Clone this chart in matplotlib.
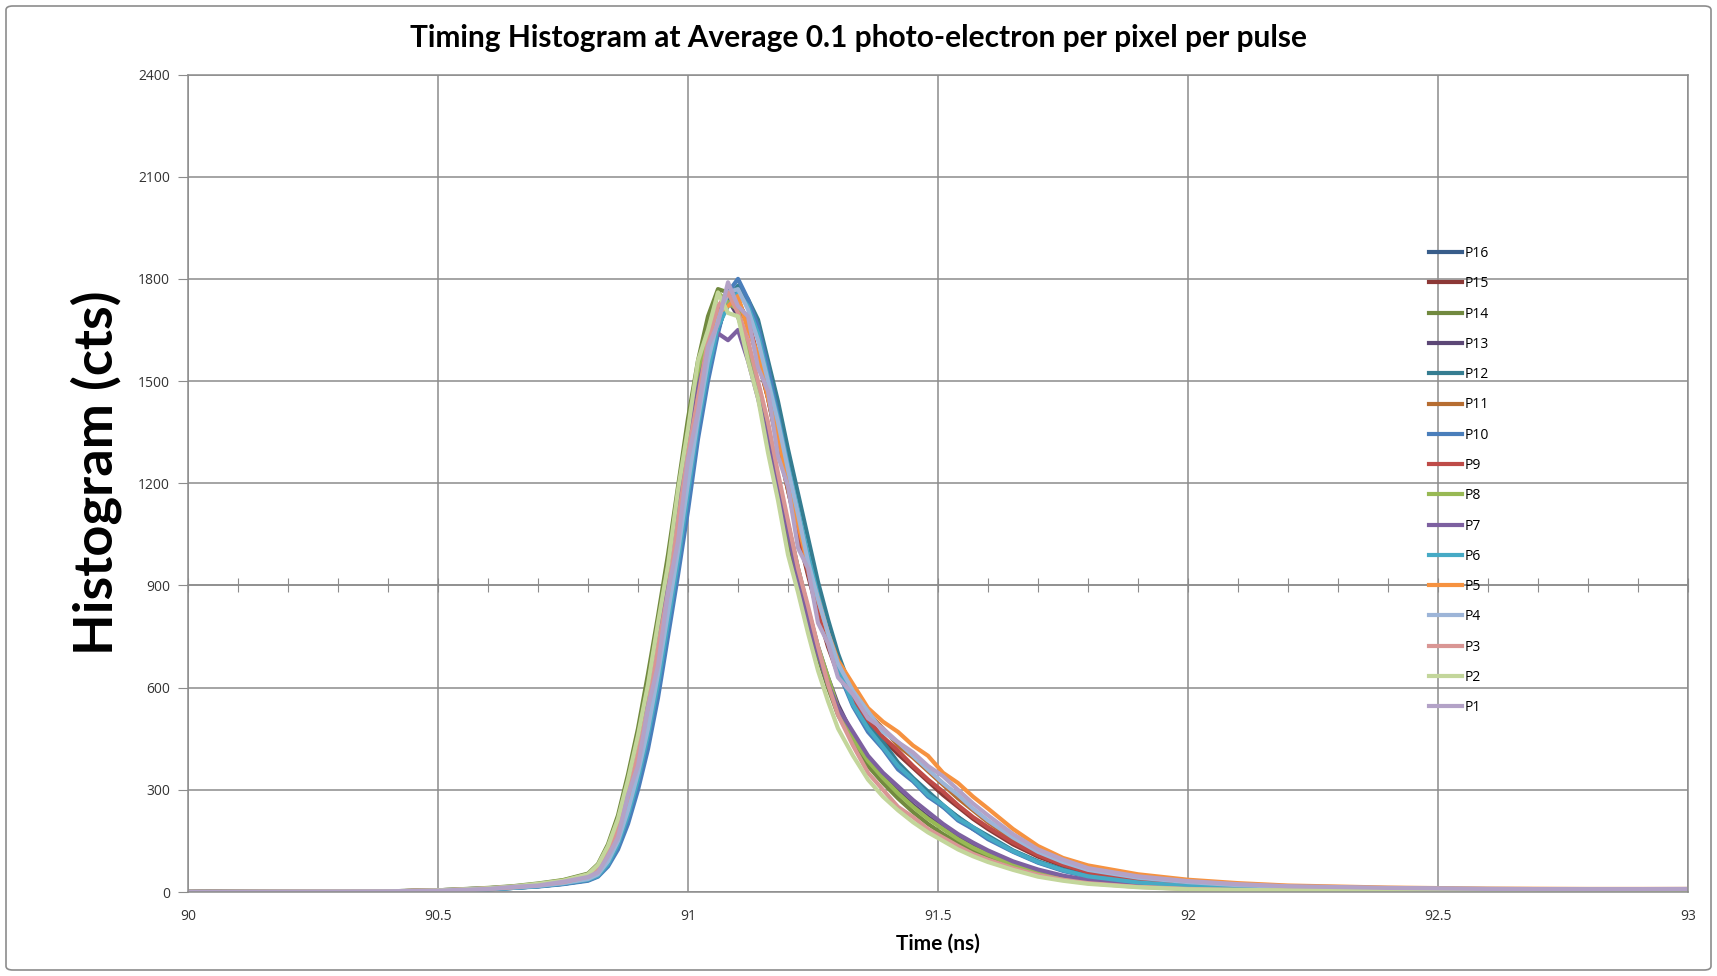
import matplotlib
matplotlib.use("Agg")
import matplotlib.pyplot as plt
from matplotlib.ticker import MultipleLocator
from matplotlib.patches import FancyBboxPatch

# ── Daten ────────────────────────────────────────────────────
t_ns = [90.0, 90.2, 90.4, 90.5, 90.6, 90.65, 90.7, 90.75, 90.8,
        90.82, 90.84, 90.86, 90.88, 90.90, 90.92, 90.94, 90.96, 90.98, 91.00,
        91.02, 91.04, 91.06, 91.08, 91.10, 91.12, 91.14, 91.16, 91.18, 91.20,
        91.22, 91.24, 91.26, 91.28, 91.30,
        91.33, 91.36, 91.39, 91.42, 91.45, 91.48, 91.51, 91.54, 91.57, 91.60,
        91.65, 91.70, 91.75, 91.80, 91.90, 92.00, 92.10, 92.20, 92.40, 92.60, 92.80, 93.00]

p1 = [0, 1, 2, 4, 9, 15, 19, 30, 44,
      58, 105, 160, 285, 370, 540, 665, 880, 1030, 1270, 1410, 1600, 1670, 1790, 1720, 1690,
      1540, 1470, 1280, 1190, 1010, 950, 790, 730, 630,
      580, 510, 480, 440, 410, 370, 340, 300, 260, 225,
      170, 125, 95, 70, 46, 32, 23, 17, 12, 9, 8, 9]
p2 = [0, 1, 2, 5, 11, 16, 24, 33, 52,
      80, 135, 215, 330, 460, 610, 790, 960, 1180, 1360, 1560, 1650, 1760, 1700, 1690, 1560,
      1450, 1290, 1150, 990, 880, 760, 650, 560, 480,
      400, 330, 280, 240, 205, 175, 150, 125, 105, 88,
      65, 45, 33, 24, 14, 8, 6, 5, 4, 4, 4, 4]
p3 = [0, 1, 2, 4, 10, 14, 21, 29, 45,
      65, 110, 185, 280, 410, 545, 720, 880, 1090, 1290, 1450, 1620, 1720, 1760, 1700, 1620,
      1500, 1380, 1230, 1090, 950, 840, 720, 610, 520,
      430, 350, 300, 250, 220, 185, 160, 135, 112, 95,
      70, 50, 36, 26, 15, 9, 6, 5, 4, 4, 4, 4]
p4 = [0, 1, 2, 3, 9, 13, 18, 26, 38,
      52, 90, 150, 240, 350, 480, 640, 820, 1000, 1200, 1390, 1560, 1680, 1760, 1770, 1710,
      1620, 1500, 1380, 1240, 1110, 970, 860, 760, 670,
      590, 530, 470, 440, 400, 360, 320, 285, 245, 210,
      160, 118, 88, 65, 42, 29, 20, 15, 11, 9, 8, 8]
p5 = [0, 1, 2, 4, 10, 15, 21, 32, 45,
      62, 108, 175, 290, 390, 530, 700, 850, 1070, 1240, 1450, 1570, 1700, 1720, 1750, 1650,
      1580, 1450, 1340, 1200, 1080, 960, 860, 760, 680,
      610, 540, 500, 470, 430, 400, 350, 320, 280, 245,
      185, 135, 100, 78, 52, 36, 26, 19, 13, 10, 9, 9]
p6 = [0, 1, 1, 3, 8, 12, 17, 25, 36,
      48, 82, 140, 225, 330, 460, 610, 790, 970, 1170, 1370, 1530, 1660, 1720, 1760, 1720,
      1640, 1510, 1390, 1250, 1120, 990, 870, 760, 660,
      550, 480, 425, 370, 330, 285, 255, 215, 190, 160,
      120, 88, 64, 46, 28, 18, 12, 9, 7, 6, 5, 6]
p7 = [0, 1, 2, 5, 11, 15, 22, 31, 48,
      72, 120, 200, 310, 440, 580, 760, 930, 1130, 1330, 1480, 1600, 1640, 1620, 1650, 1560,
      1450, 1330, 1180, 1060, 920, 800, 700, 610, 540,
      470, 400, 350, 310, 270, 235, 200, 170, 145, 122,
      90, 66, 48, 35, 21, 13, 9, 6, 5, 4, 4, 5]
p8 = [0, 1, 2, 5, 11, 16, 23, 34, 50,
      75, 128, 210, 320, 455, 600, 780, 950, 1150, 1350, 1520, 1640, 1760, 1730, 1710, 1600,
      1480, 1350, 1210, 1080, 950, 830, 720, 630, 540,
      450, 385, 335, 290, 250, 215, 185, 155, 130, 110,
      80, 58, 42, 31, 18, 11, 8, 6, 5, 4, 4, 4]
p9 = [0, 1, 2, 4, 9, 14, 20, 28, 40,
      55, 98, 165, 260, 375, 510, 670, 850, 1040, 1230, 1420, 1570, 1700, 1760, 1730, 1680,
      1570, 1460, 1320, 1190, 1060, 940, 830, 730, 650,
      570, 505, 455, 415, 370, 330, 295, 255, 220, 190,
      145, 108, 80, 58, 37, 25, 17, 12, 9, 7, 7, 7]
p10 = [0, 1, 1, 3, 8, 12, 16, 23, 33,
       45, 75, 125, 200, 300, 420, 570, 750, 930, 1120, 1330, 1500, 1640, 1760, 1800, 1740,
       1660, 1540, 1400, 1250, 1110, 980, 860, 750, 650,
       545, 470, 420, 360, 325, 280, 250, 210, 185, 155,
       118, 86, 62, 45, 27, 17, 12, 9, 7, 6, 5, 6]
p11 = [0, 1, 2, 4, 10, 14, 20, 29, 43,
       60, 104, 172, 275, 385, 525, 690, 870, 1060, 1260, 1440, 1590, 1700, 1730, 1740, 1670,
       1570, 1450, 1310, 1180, 1060, 940, 840, 750, 670,
       590, 525, 480, 430, 395, 355, 315, 275, 240, 205,
       155, 115, 86, 63, 41, 28, 20, 14, 10, 8, 8, 8]
p12 = [0, 1, 1, 3, 8, 12, 17, 24, 35,
       47, 80, 135, 215, 320, 445, 600, 780, 960, 1160, 1350, 1520, 1650, 1740, 1780, 1740,
       1680, 1560, 1440, 1300, 1170, 1040, 910, 800, 700,
       580, 500, 440, 380, 335, 295, 255, 220, 190, 165,
       122, 90, 66, 47, 29, 19, 13, 9, 7, 6, 5, 6]
p13 = [0, 1, 2, 4, 10, 15, 22, 30, 46,
       68, 115, 190, 300, 420, 565, 740, 910, 1110, 1310, 1470, 1610, 1700, 1740, 1690, 1600,
       1480, 1350, 1210, 1080, 950, 830, 720, 630, 550,
       460, 390, 340, 295, 255, 220, 190, 160, 135, 115,
       85, 62, 45, 33, 20, 12, 8, 6, 5, 4, 4, 4]
p14 = [0, 1, 2, 5, 12, 17, 25, 35, 54,
       82, 140, 225, 345, 480, 640, 810, 990, 1190, 1390, 1560, 1690, 1770, 1760, 1700, 1580,
       1460, 1320, 1180, 1040, 910, 790, 690, 600, 520,
       440, 370, 320, 275, 235, 200, 170, 145, 120, 100,
       75, 55, 40, 29, 17, 10, 7, 5, 4, 4, 4, 4]
p15 = [0, 1, 2, 4, 9, 14, 20, 28, 42,
       57, 100, 168, 265, 378, 515, 675, 855, 1045, 1240, 1425, 1575, 1690, 1750, 1720, 1670,
       1560, 1450, 1310, 1180, 1050, 930, 820, 720, 640,
       565, 500, 450, 405, 365, 325, 285, 250, 215, 185,
       140, 104, 77, 56, 36, 24, 16, 12, 8, 7, 6, 7]
p16 = [0, 1, 1, 3, 8, 12, 17, 24, 35,
       48, 82, 138, 220, 325, 455, 610, 785, 965, 1165, 1355, 1520, 1650, 1740, 1770, 1720,
       1630, 1510, 1380, 1240, 1100, 970, 850, 740, 650,
       555, 485, 425, 375, 330, 290, 250, 220, 185, 160,
       120, 88, 64, 46, 28, 18, 12, 9, 7, 6, 5, 6]

# Reihenfolge wie in der Legende (P16 oben, zuerst gezeichnet)
labels = ["P16", "P15", "P14", "P13", "P12", "P11", "P10", "P9",
          "P8", "P7", "P6", "P5", "P4", "P3", "P2", "P1"]
series = [p16, p15, p14, p13, p12, p11, p10, p9, p8, p7, p6, p5, p4, p3, p2, p1]
colors = ["#385D8A", "#8C3836", "#71893F", "#5C4776", "#357D91", "#B66D31",
          "#4A7EBB", "#BE4B48", "#98B954", "#7D60A0", "#46AAC5", "#F69240",
          "#9DB5D8", "#D99694", "#C3D69B", "#B3A2C7"]

# ── Plot ─────────────────────────────────────────────────────
plt.rcParams['font.family'] = ['Open Sans', 'DejaVu Sans']
grid_col = '#8C8C8C'
bold_font = ['Lato', 'DejaVu Sans']

fig = plt.figure(figsize=(17.17, 9.76), dpi=100)
ax = fig.add_axes([188/1717, 84/976, 1500/1717, 817.5/976])

for vals, lab, col in zip(series, labels, colors):
    ax.plot(t_ns, vals, color=col, linewidth=3.0, label=lab)

ax.set_xlim(90, 93)
ax.set_ylim(0, 2400)
ax.xaxis.set_major_locator(MultipleLocator(0.5))
ax.yaxis.set_major_locator(MultipleLocator(300))
ax.set_xticklabels([f"{v:g}" for v in ax.get_xticks()])
ax.grid(True, color=grid_col, linewidth=1.1)
ax.set_axisbelow(True)
for s in ax.spines.values():
    s.set_color(grid_col)
    s.set_linewidth(1.1)
ax.tick_params(axis='x', length=0, pad=12, labelsize=10, labelcolor='#333333')
ax.tick_params(axis='y', length=7, direction='out', color=grid_col, pad=6,
               labelsize=10, labelcolor='#333333')

# Excel-Achse kreuzt bei 900 mit Teilstrichen
sec = ax.secondary_xaxis(900/2400)
sec.spines['bottom'].set_color(grid_col)
sec.spines['bottom'].set_linewidth(1.1)
sec.xaxis.set_major_locator(MultipleLocator(0.1))
sec.tick_params(axis='x', direction='inout', length=10, color=grid_col,
                labelbottom=False)

fig.text(0.5, 1 - 38/976, "Timing Histogram at Average 0.1 photo-electron per pixel per pulse",
         ha='center', va='center', fontsize=21.5, fontweight='bold', family=bold_font)
fig.text(0.5 * (188 + 1688) / 1717, 1 - 944/976, "Time (ns)",
         ha='center', va='center', fontsize=15, fontweight='bold', family=bold_font)
fig.text(96/1717, 1 - 473/976, "Histogram (cts)", rotation=90,
         ha='center', va='center', fontsize=39, fontweight='bold', family=bold_font)

ax.legend(loc='upper left', bbox_to_anchor=(1429/1717, 1 - 246/976),
          bbox_transform=fig.transFigure, frameon=False, fontsize=10,
          handlelength=2.4, handletextpad=0.2, labelspacing=1.1,
          borderpad=0, borderaxespad=0)

# Rahmen um das ganze Diagramm
fig.patches.append(FancyBboxPatch((6/1717, 6/976), 1 - 12/1717, 1 - 12/976,
                                  boxstyle='round,pad=0,rounding_size=0.004',
                                  transform=fig.transFigure, fill=False,
                                  edgecolor='#8C8C8C', linewidth=1.2))

fig.savefig("out.png", dpi=100)
